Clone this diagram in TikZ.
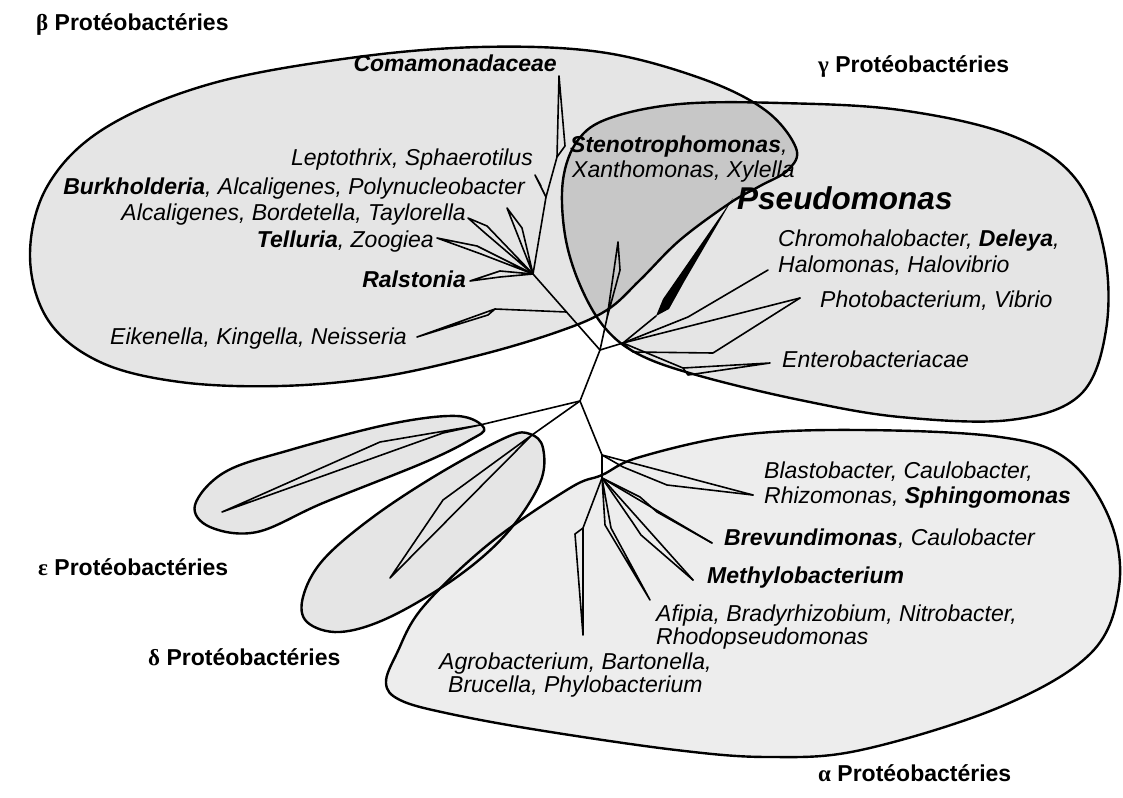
\documentclass[tikz,border=0pt]{standalone}
\usepackage{fontspec}
\setmainfont{Liberation Sans}
\newfontfamily\grk{Liberation Serif}
\usetikzlibrary{calc}
\definecolor{blobfill}{gray}{0.90}
\definecolor{overlapfill}{gray}{0.78}
\definecolor{alphafill}{gray}{0.93}
\begin{document}
\begin{tikzpicture}[x=1pt,y=-1pt,
  blob/.style={draw=black, line width=2.4pt, line join=round},
  branch/.style={draw=black, line width=1.6pt, line join=round, line cap=round},
  taxon/.style={font=\fontsize{23}{27}\selectfont\itshape, inner sep=0pt},
  grp/.style={font=\fontsize{23}{27}\selectfont\bfseries, inner sep=0pt}]
\useasboundingbox (0,0) rectangle (1123,797);
\fill[white] (0,0) rectangle (1123,797);
% ---------- fills
\fill[blobfill] plot[smooth cycle, tension=0.6] coordinates {(30,255) (48,185) (105,128) (210,84) (350,58) (480,47) (600,52) (700,78) (765,110) (796,148) (788,170) (760,186) (730,203) (680,240) (640,280) (607,310) (560,331) (480,355) (380,377) (280,386) (180,382) (100,362) (48,320)};
\fill[blobfill] plot[smooth cycle, tension=0.6] coordinates {(610,118) (680,104) (780,103) (900,110) (1010,135) (1075,178) (1104,250) (1106,330) (1080,395) (1010,420) (900,417) (800,400) (700,376) (640,355) (605,328) (580,285) (565,235) (563,180) (578,140)};
\begin{scope}
\clip plot[smooth cycle, tension=0.6] coordinates {(30,255) (48,185) (105,128) (210,84) (350,58) (480,47) (600,52) (700,78) (765,110) (796,148) (788,170) (760,186) (730,203) (680,240) (640,280) (607,310) (560,331) (480,355) (380,377) (280,386) (180,382) (100,362) (48,320)};
\fill[overlapfill] plot[smooth cycle, tension=0.6] coordinates {(610,118) (680,104) (780,103) (900,110) (1010,135) (1075,178) (1104,250) (1106,330) (1080,395) (1010,420) (900,417) (800,400) (700,376) (640,355) (605,328) (580,285) (565,235) (563,180) (578,140)};
\end{scope}
\fill[blobfill] plot[smooth cycle, tension=0.6] coordinates {(195,505) (225,472) (290,450) (390,424) (457,416) (484,428) (470,440) (423,463) (323,503) (257,532) (210,527)};
\fill[blobfill] plot[smooth cycle, tension=0.6] coordinates {(530,434) (543,448) (540,483) (507,533) (457,577) (390,617) (340,632) (307,622) (303,597) (323,560) (373,517) (440,473) (507,437)};
\fill[alphafill] plot[smooth cycle, tension=0.6] coordinates {(640,457) (740,435) (860,430) (1000,437) (1068,460) (1110,520) (1119,587) (1091,653) (1000,707) (861,750) (769,757) (676,750) (538,730) (446,713) (400,700) (386,683) (397,653) (423,607) (490,543) (570,488) (602,475)};
% ---------- outlines
\draw[blob] plot[smooth cycle, tension=0.6] coordinates {(30,255) (48,185) (105,128) (210,84) (350,58) (480,47) (600,52) (700,78) (765,110) (796,148) (788,170) (760,186) (730,203) (680,240) (640,280) (607,310) (560,331) (480,355) (380,377) (280,386) (180,382) (100,362) (48,320)};
\draw[blob] plot[smooth cycle, tension=0.6] coordinates {(610,118) (680,104) (780,103) (900,110) (1010,135) (1075,178) (1104,250) (1106,330) (1080,395) (1010,420) (900,417) (800,400) (700,376) (640,355) (605,328) (580,285) (565,235) (563,180) (578,140)};
\draw[blob] plot[smooth cycle, tension=0.6] coordinates {(195,505) (225,472) (290,450) (390,424) (457,416) (484,428) (470,440) (423,463) (323,503) (257,532) (210,527)};
\draw[blob] plot[smooth cycle, tension=0.6] coordinates {(530,434) (543,448) (540,483) (507,533) (457,577) (390,617) (340,632) (307,622) (303,597) (323,560) (373,517) (440,473) (507,437)};
\draw[blob] plot[smooth cycle, tension=0.6] coordinates {(640,457) (740,435) (860,430) (1000,437) (1068,460) (1110,520) (1119,587) (1091,653) (1000,707) (861,750) (769,757) (676,750) (538,730) (446,713) (400,700) (386,683) (397,653) (423,607) (490,543) (570,488) (602,475)};
% ---------- tree coordinates
\coordinate (R) at (580,401);
\coordinate (N1) at (600,350);
\coordinate (B) at (533,274);
\coordinate (G) at (623,343);
\coordinate (A1) at (602,455);
\coordinate (A2) at (602,478);
\coordinate (E1) at (480,425);
\coordinate (D1) at (532,435);
% beta
\coordinate (L1) at (546,197);
\coordinate (C1) at (557,157);
\coordinate (C2) at (565,146);
\coordinate (Ctop) at (559,76);
\coordinate (Lt) at (535,175);
\coordinate (Lt2) at (541,186);
\coordinate (P1) at (507,208);
\coordinate (P2) at (522,228);
\coordinate (Ta) at (468,218);
\coordinate (Ta2) at (487,226);
\coordinate (Ta3) at (485,233);
\coordinate (Z) at (437,238);
\coordinate (Z2) at (477,246);
\coordinate (Z3) at (481,254);
\coordinate (Ra) at (470,281);
\coordinate (Ra2) at (500,271);
\coordinate (Ra3) at (500,277);
\coordinate (Ek) at (417,337);
\coordinate (Ek2) at (495,309);
\coordinate (Ek3) at (488,315);
\coordinate (EkJ) at ($(B)!0.5!(N1)$);
% gamma
\coordinate (S1) at (607,318);
\coordinate (St) at (618,242);
\coordinate (St2) at (620,270);
\coordinate (Ps0) at (656,316);
\coordinate (PsT) at (733,198);
\coordinate (Hm) at (768,270);
\coordinate (Hm2) at (688,317);
\coordinate (Ph) at (800,298);
\coordinate (Ph2) at (713,353);
\coordinate (Ph1) at (633,352);
\coordinate (En) at (770,363);
\coordinate (En1) at (683,368);
\coordinate (En2) at (688,375);
% alpha
\coordinate (Bl) at (753,495);
\coordinate (Bl1) at (623,467);
\coordinate (Bl2) at (667,485);
\coordinate (Br) at (712,543);
\coordinate (Br1) at (640,497);
\coordinate (Br2) at (657,512);
\coordinate (Me) at (693,580);
\coordinate (Me1) at (633,523);
\coordinate (Me2) at (641,535);
\coordinate (Af) at (650,600);
\coordinate (Af1) at (605,525);
\coordinate (Af2) at (611,528);
\coordinate (Ag) at (583,635);
\coordinate (Ag1) at (583,528);
\coordinate (Ag2) at (575,534);
% epsilon / delta
\coordinate (Et) at (222,512);
\coordinate (Et1) at (380,442);
\coordinate (Et2) at (443,433);
\coordinate (Dt) at (390,578);
\coordinate (Dt1) at (443,500);
% ---------- tree
\draw[branch] (R) -- (N1) -- (B);
\draw[branch] (N1) -- (G);
\draw[branch] (R) -- (A1) -- (A2);
\draw[branch] (R) -- (E1);
\draw[branch] (R) -- (D1);
% beta branches
\draw[branch] (B) -- (L1) -- (C1) -- (Ctop) -- (C2) -- (C1);
\draw[branch] (L1) -- (Lt) -- (Lt2);
\draw[branch] (B) -- (P2) -- (P1) -- (B);
\draw[branch] (B) -- (Ta2) -- (Ta) -- (Ta3) -- (B);
\draw[branch] (B) -- (Z2) -- (Z) -- (Z3) -- (B);
\draw[branch] (B) -- (Ra2) -- (Ra) -- (Ra3) -- (B);
\draw[branch] (EkJ) -- (Ek2) -- (Ek) -- (Ek3) -- (Ek2);
% gamma branches
\draw[branch] (N1) -- (S1) -- (St) -- (St2) -- (S1);
\draw[branch] (G) -- (Ps0);
\fill (Ps0) -- (663,299) -- (PsT) -- (684,282) -- (669,309) -- cycle;
\draw[branch] (G) -- (Hm2) -- (Hm);
\draw[branch] (G) -- (Ph);
\draw[branch] (G) -- (Ph1) -- (Ph2) -- (Ph);
\draw[branch] (G) -- (En1) -- (En) -- (En2) -- (En1);
% alpha branches
\draw[branch] (A1) -- (Bl);
\draw[branch] (A1) -- (Bl1) -- (Bl2) -- (Bl);
\draw[branch] (A2) -- (Br);
\draw[branch] (A2) -- (Br1) -- (Br2) -- (Br);
\draw[branch] (A2) -- (Me);
\draw[branch] (A2) -- (Me1) -- (Me2) -- (Me);
\draw[branch] (A2) -- (Af1) -- (Af) -- (Af2) -- (A2);
\draw[branch] (A2) -- (Ag1) -- (Ag) -- (Ag2) -- (Ag1);
% epsilon / delta
\draw[branch] (E1) -- (Et1) -- (Et) -- (Et2) -- (E1);
\draw[branch] (D1) -- (Dt1) -- (Dt) -- (D1);
% ---------- labels
\node[taxon, anchor=mid east] (coma) at (557,69) {\textbf{Comamonadaceae}};
\node[taxon, anchor=mid east] (lepto) at (533,163) {Leptothrix, Sphaerotilus};
\node[taxon, anchor=mid east] (burk) at (525,192) {\textbf{Burkholderia}, Alcaligenes, Polynucleobacter};
\node[taxon, anchor=mid east] (alca) at (466,218) {Alcaligenes, Bordetella, Taylorella};
\node[taxon, anchor=mid east] (tell) at (434,245) {\textbf{Telluria}, Zoogiea};
\node[taxon, anchor=mid east] (rals) at (466,285) {\textbf{Ralstonia}};
\node[taxon, anchor=mid east] (eike) at (407,342) {Eikenella, Kingella, Neisseria};
\node[taxon, anchor=mid west] (steno) at (570,150) {\textbf{Stenotrophomonas},};
\node[taxon, anchor=mid west] (xan) at (572,175) {Xanthomonas, Xylella};
\node[font=\fontsize{31.5}{34}\selectfont\bfseries\itshape, inner sep=0pt, anchor=mid west] (pseudo) at (737,207) {Pseudomonas};
\node[taxon, anchor=mid west] (chromo) at (778,244) {Chromohalobacter, \textbf{Deleya},};
\node[taxon, anchor=mid west] (halo) at (778,270) {Halomonas, Halovibrio};
\node[taxon, anchor=mid west] (photo) at (820,305) {Photobacterium, Vibrio};
\node[taxon, anchor=mid west] (entero) at (782,365) {Enterobacteriacae};
\node[taxon, anchor=mid west] (blasto) at (764,476) {Blastobacter, Caulobacter,};
\node[taxon, anchor=mid west] (rhizo) at (764,501) {Rhizomonas, \textbf{Sphingomonas}};
\node[taxon, anchor=mid west] (brev) at (724,543) {\textbf{Brevundimonas}, Caulobacter};
\node[taxon, anchor=mid west] (methylo) at (707,581) {\textbf{Methylobacterium}};
\node[taxon, anchor=mid west] (afipia) at (656,619) {Afipia, Bradyrhizobium, Nitrobacter,};
\node[taxon, anchor=mid west] (rhodo) at (656,642) {Rhodopseudomonas};
\node[taxon, anchor=mid west] (agro) at (439,667) {Agrobacterium, Bartonella,};
\node[taxon, anchor=mid west] (bruc) at (448,690) {Brucella, Phylobacterium};
\node[grp, anchor=mid west] (gbeta) at (36,28) {{\grk β} Protéobactéries};
\node[grp, anchor=mid west] (ggamma) at (818,70) {{\grk γ} Protéobactéries};
\node[grp, anchor=mid west] (geps) at (38,573) {{\grk ε} Protéobactéries};
\node[grp, anchor=mid west] (gdelta) at (148,663) {{\grk δ} Protéobactéries};
\node[grp, anchor=mid west] (galpha) at (818,779) {{\grk α} Protéobactéries};
\end{tikzpicture}
\end{document}
